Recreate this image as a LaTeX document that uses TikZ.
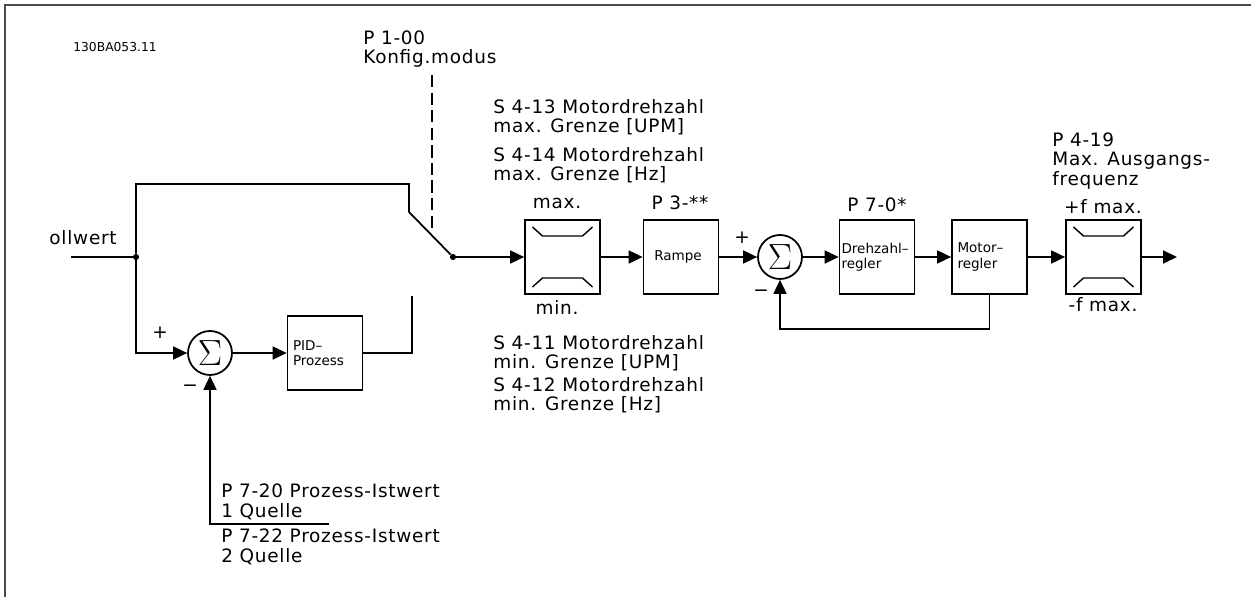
\documentclass[tikz,border=0pt]{standalone}
\usepackage{fontspec}
\usetikzlibrary{arrows.meta}
\newfontfamily\lblfont{DejaVu Sans}[LetterSpace=4.0]
\newfontfamily\boxfont{DejaVu Sans}

% limiter symbol drawn inside a block
\newcommand{\limsym}[1]{%
  \draw[line width=0.8pt, shift={(#1.center)}]
    (-30,-30) -- (-20,-21) -- (20,-21) -- (30,-30)
    (-30, 30) -- (-20, 21) -- (20, 21) -- (30, 30);}

\begin{document}
\begin{tikzpicture}[
  x=0.02cm, y=-0.02cm,
  every node/.style={inner sep=1pt},
  lbl/.style={font=\fontsize{10.5}{11}\selectfont\lblfont, inner sep=0pt, align=left},
  sign/.style={font=\fontsize{10.5}{11}\selectfont\boxfont, inner sep=0pt},
  tag/.style={font=\fontsize{7}{8}\selectfont\boxfont, inner sep=0pt},
  blk/.style={draw, line width=1pt, minimum width=1.5cm, minimum height=1.48cm,
    inner sep=0pt, text width=1.42cm, align=left, font=\fontsize{7.7}{8.6}\selectfont\boxfont},
  sumc/.style={circle, draw, line width=1pt, minimum size=0.88cm, inner sep=0pt, font=\huge},
  dot/.style={circle, fill=black, minimum size=3.5pt, inner sep=0pt},
  wire/.style={draw, line width=1pt},
  arr/.style={draw, line width=1pt, -{Triangle[length=0.28cm, width=0.26cm]}},
  dline/.style={draw, line width=0.8pt, dash pattern=on 7pt off 3pt}]

  \useasboundingbox (0,0) rectangle (1251,597);
  \draw[line width=1pt, black!70] (5,597) -- (5,5) -- (1251,5);

  % blocks
  \node[sumc] (sum1)  at (210,353)   {$\Sigma$};
  \node[blk]  (pid)   at (325,353)   {\hspace*{2pt}PID–\\\hspace*{2pt}Prozess};
  \node[blk]  (lim1)  at (562.5,257) {};
  \node[blk]  (rampe) at (681,257)   {\hspace*{5pt}Rampe};
  \node[sumc] (sum2)  at (780,257)   {$\Sigma$};
  \node[blk]  (dreh)  at (877,257)   {Drehzahl–\\regler};
  \node[blk]  (motor) at (989.5,257) {\hspace*{2pt}Motor–\\\hspace*{2pt}regler};
  \node[blk]  (lim2)  at (1103.5,257) {};
  \limsym{lim1}
  \limsym{lim2}

  % junctions and free ends
  \node[dot] (j1) at (136,257) {};
  \node[dot] (sw) at (453,257) {};
  \coordinate (in)     at (71,257);
  \coordinate (cnt)    at (412,296);
  \coordinate (fb1)    at (329,524);
  \coordinate (out)    at (1177,257);
  \coordinate (modtop) at (432,75);
  \coordinate (modbot) at (432,232);

  % connectors
  \draw[wire] (in) -- (j1);
  \draw[wire] (j1) -- (136,184) -- (409,184) -- (409,212) -- (sw);
  \draw[arr]  (j1) |- (sum1.west);
  \draw[arr]  (sum1) -- (pid);
  \draw[wire] (pid) -| (cnt);
  \draw[arr]  (fb1) -| (sum1.south);
  \draw[arr]  (sw) -- (lim1);
  \draw[arr]  (lim1) -- (rampe);
  \draw[arr]  (rampe) -- (sum2);
  \draw[arr]  (sum2) -- (dreh);
  \draw[arr]  (dreh) -- (motor);
  \draw[arr]  (motor) -- (lim2);
  \draw[arr]  (lim2) -- (out);
  \draw[arr]  (motor.south) -- ++(0,34) -| (sum2.south);
  \draw[dline] (modtop) -- (modbot);

  % signs
  \node[sign] (p1) at (160,333) {+};
  \node[sign] (m1) at (190,388) {−};
  \node[sign] (p2) at (742,238) {+};
  \node[sign] (m2) at (761,293) {−};

  % labels
  \node[tag, anchor=west] (code) at (73,47) {130BA053.11};
  \node[lbl, anchor=west] (modus) at (363,49) {P 1-00\\Konfig.modus};
  \begin{scope}
    \clip (49,220) rectangle (130,252);
    \node[lbl, anchor=east] (soll) at (117,238) {Sollwert};
  \end{scope}
  \node[lbl, anchor=west] (maxupm) at (493,117) {S 4-13 Motordrehzahl\\max. Grenze [UPM]};
  \node[lbl, anchor=west] (maxhz)  at (493,165) {S 4-14 Motordrehzahl\\max. Grenze [Hz]};
  \node[lbl, anchor=west] (minupm) at (493,353) {S 4-11 Motordrehzahl\\min. Grenze [UPM]};
  \node[lbl, anchor=west] (minhz)  at (493,395) {S 4-12 Motordrehzahl\\min. Grenze [Hz]};
  \node[lbl] (maxtxt)  at (557,203)  {max.};
  \node[lbl] (mintxt)  at (557,307)  {min.};
  \node[lbl] (ramptxt) at (680,203)  {P 3-**};
  \node[lbl] (regtxt)  at (877,205)  {P 7-0*};
  \node[lbl] (fmax)    at (1103,207) {+f max.};
  \node[lbl] (fmin)    at (1103,305) {-f max.};
  \node[lbl, anchor=west] (ausg) at (1052,161) {P 4-19\\Max. Ausgangs-\\frequenz};
  \node[lbl, anchor=west] (ist1) at (221,502) {P 7-20 Prozess-Istwert\\1 Quelle};
  \node[lbl, anchor=west] (ist2) at (221,547) {P 7-22 Prozess-Istwert\\2 Quelle};
\end{tikzpicture}
\end{document}
